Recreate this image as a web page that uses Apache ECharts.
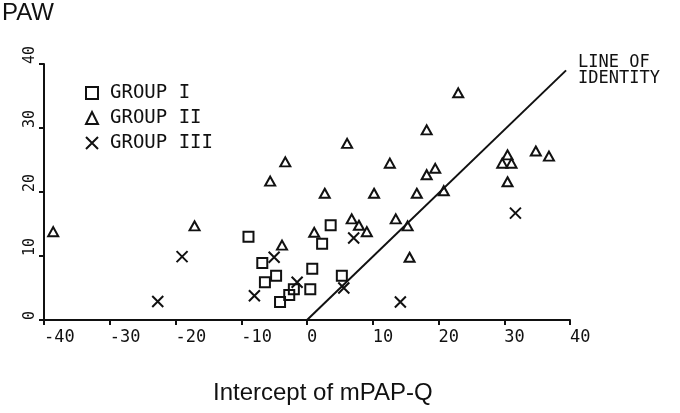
<!DOCTYPE html>
<html>
<head>
<meta charset="utf-8">
<script src="https://cdn.jsdelivr.net/npm/echarts@6/dist/echarts.min.js"></script>
<style>
  html, body { margin: 0; padding: 0; background: #fff; }
  #chart { width: 680px; height: 413px; }
</style>
</head>
<body>
<div id="chart"></div>
<script>
// points: [intercept of mPAP-Q, PAW]
var groupI = [
  [-8.9, 13.0], [3.6, 14.8], [2.3, 11.9], [-6.8, 8.9], [-4.7, 6.9], [-6.4, 5.9],
  [0.8, 8.0], [5.3, 6.9], [0.5, 4.8], [-2.0, 4.8], [-2.7, 3.9], [-4.1, 2.8]
];
var groupII = [
  [-38.6, 13.8], [-17.1, 14.7], [-5.6, 21.7], [-3.3, 24.7], [-3.8, 11.7], [1.1, 13.7],
  [2.7, 19.8], [6.1, 27.6], [6.8, 15.8], [7.9, 14.8], [9.1, 13.8], [10.2, 19.8],
  [12.6, 24.5], [13.5, 15.8], [15.3, 14.7], [15.6, 9.8], [16.7, 19.8], [18.2, 29.7],
  [18.2, 22.7], [19.5, 23.7], [20.8, 20.2], [23.0, 35.5], [29.7, 24.5], [30.5, 25.8],
  [31.1, 24.5], [30.5, 21.6], [34.8, 26.4], [36.8, 25.6]
];
var groupIII = [
  [-22.7, 2.9], [-19.0, 9.9], [-8.0, 3.8], [-5.0, 9.8], [-1.5, 5.9],
  [5.6, 5.0], [7.1, 12.8], [14.2, 2.8], [31.7, 16.7]
];
var identity = [[0, 0], [39.4, 39]];
var groupNames = ['GROUP I', 'GROUP II', 'GROUP III'];

var ink = '#111';
var mono = 'DejaVu Sans Mono';
var hollow = { color: 'rgba(0,0,0,0)', borderColor: ink, borderWidth: 2, opacity: 1 };

var myChart = echarts.init(document.getElementById('chart'));
var option = {
  animation: false,
  backgroundColor: '#fff',
  title: [
    { text: 'PAW', left: 2, top: 1, padding: 0,
      textStyle: { fontFamily: 'Liberation Sans', fontSize: 24, fontWeight: 'normal', color: ink } },
    { text: 'Intercept of mPAP-Q', left: 213, top: 381, padding: 0,
      textStyle: { fontFamily: 'Liberation Sans', fontSize: 24, fontWeight: 'normal', color: ink } }
  ],
  grid: { left: 44, right: 110, top: 64, bottom: 93 },
  legend: {
    data: groupNames,
    orient: 'vertical',
    left: 85, top: 83, padding: 0,
    itemWidth: 12, itemHeight: 12, itemGap: 5,
    textStyle: { fontFamily: mono, fontSize: 19, lineHeight: 20, color: ink, padding: [0, 0, 0, 7] }
  },
  xAxis: {
    type: 'value', min: -40, max: 40, interval: 10,
    splitLine: { show: false },
    axisLine: { onZero: false, lineStyle: { color: ink, width: 2 } },
    axisTick: { length: 5, lineStyle: { color: ink, width: 2 } },
    axisLabel: { align: 'left', margin: 9, fontFamily: mono, fontSize: 17, color: ink }
  },
  yAxis: {
    type: 'value', min: 0, max: 40, interval: 10,
    splitLine: { show: false },
    axisLine: { onZero: false, lineStyle: { color: ink, width: 2 } },
    axisTick: { length: 5, lineStyle: { color: ink, width: 2 } },
    axisLabel: { rotate: 90, align: 'left', verticalAlign: 'bottom', margin: 6,
      fontFamily: mono, fontSize: 15, color: ink }
  },
  series: [
    { name: 'GROUP I', type: 'scatter', data: groupI,
      symbol: 'rect', symbolSize: 10, itemStyle: hollow },
    { name: 'GROUP II', type: 'scatter', data: groupII,
      symbol: 'triangle', symbolSize: [10, 9], itemStyle: hollow },
    { name: 'GROUP III', type: 'scatter', data: groupIII,
      symbol: 'path://M0,0L10,10M10,0L0,10', symbolSize: 11, itemStyle: hollow },
    { name: 'identity', type: 'line', data: identity,
      showSymbol: false, silent: true,
      lineStyle: { color: ink, width: 2 },
      endLabel: { show: true, formatter: 'LINE OF\nIDENTITY', distance: 12,
        fontFamily: mono, fontSize: 17, lineHeight: 16, color: ink, align: 'left' } }
  ]
};
myChart.setOption(option);
</script>
</body>
</html>
